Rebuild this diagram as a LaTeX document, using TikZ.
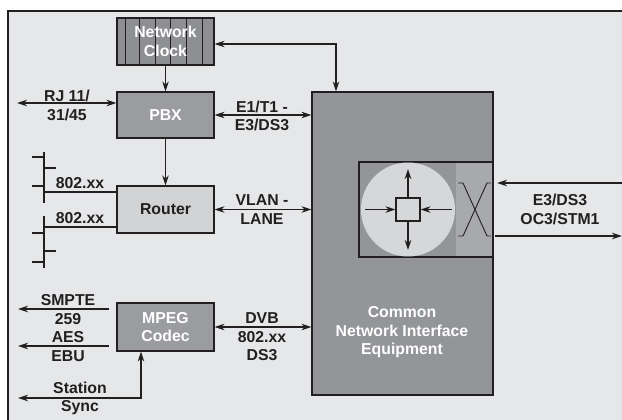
\documentclass[tikz,border=0pt]{standalone}
\usepackage{fontspec}
\setmainfont{Liberation Sans}
\usetikzlibrary{arrows.meta}
\definecolor{bggray}{HTML}{E6E7E8}
\definecolor{inkdark}{HTML}{231F20}
\definecolor{cnigray}{HTML}{939598}
\definecolor{boxgray}{HTML}{9B9C9F}
\definecolor{clockgray}{HTML}{8E8F92}
\definecolor{routergray}{HTML}{D1D3D4}
\definecolor{discgray}{HTML}{D6D7D9}
\definecolor{xgray}{HTML}{A7A9AC}
\begin{document}
\begin{tikzpicture}[x=1pt, y=-1pt, >={Stealth[length=10pt,width=6.5pt]}, line width=1.2pt, draw=inkdark,
    every node/.style={font=\fontsize{15.8}{18.5}\selectfont\bfseries, text=inkdark, align=center, inner sep=0pt},
    box/.style={draw=inkdark, minimum width=97pt, minimum height=47pt, text=white}]
        % Frame
        \useasboundingbox (0,0) rectangle (622,420);
        \fill[bggray] (8,11) rectangle (622,420);
        \draw[line width=1.5pt] (8,420) -- (8,11) -- (622,11);

        % Boxes
        \node[box, fill=clockgray, minimum height=47pt,
              path picture={\foreach \sx in {-40.5,-26.5,-10.5,4.5,20.5,36.5}{
                  \draw[line width=0.8pt, draw=inkdark] ([xshift=\sx pt]path picture bounding box.north)
                      -- ([xshift=\sx pt]path picture bounding box.south);}}]
              (clock) at (165.5,41.5) {Network\\Clock};
        \node[box, fill=boxgray, minimum height=46pt] (pbx) at (165.5,115) {PBX};
        \node[box, fill=routergray, text=inkdark] (router) at (165.5,209.5) {Router};
        \node[box, fill=boxgray, minimum height=48pt] (mpeg) at (165.5,327) {MPEG\\Codec};
        \node[box, fill=cnigray, minimum width=181pt, minimum height=303pt] (cnie) at (402.5,243.5) {};
        \node[text=white] (cnietext) at (402,332.5) {Common\\Network Interface\\Equipment};

        % Switch inside the interface box
        \fill[cnigray] (359,162) rectangle (493,257);
        \fill[xgray] (456,162) rectangle (493,257);
        \draw[line width=1.5pt] (359,162) rectangle (493,257);
        \fill[discgray] (408,209.5) circle (47);
        \node[draw=inkdark, fill=discgray, minimum width=24pt, minimum height=23pt] (core) at (408,209.5) {};
        \draw[->] (core.north) -- (408,169);
        \draw[->] (core.south) -- (408,250);
        \draw[<-] (core.west) -- (365,209.5);
        \draw[<-] (core.east) -- (452,209.5);
        \draw[line width=0.9pt] (458,183) -- (463,183) -- (487,236) -- (491,236);
        \draw[line width=0.9pt] (491,183) -- (487,183) -- (463,236) -- (458,236);

        % Connectors
        \draw[->] (clock.south) -- (pbx.north);
        \draw[->] (pbx.south) -- (router.north);
        \draw[<->] ([yshift=-2.5pt]clock.east) -| ([xshift=-66.5pt]cnie.north);
        \draw[<->] (pbx.east) -- (pbx.east -| cnie.west);
        \draw[<->] (router.east) -- (router.east -| cnie.west);
        \draw[<->] (mpeg.east) -- (mpeg.east -| cnie.west);

        \coordinate (rj) at (17,103);
        \draw[<->] (rj) -- (rj -| pbx.west);
        \coordinate (smpte) at (18,309);
        \draw[<-] (smpte) -- (109,309);
        \coordinate (aes) at (18,346);
        \draw[<-] (aes) -- (109,346);
        \coordinate (sync) at (18,398);
        \draw[<->] (sync) -| ([xshift=-24.5pt]mpeg.south);

        \coordinate (trunkin) at (622,183);
        \draw[->] (trunkin) -- (497,183);
        \coordinate (trunkout) at (622,236);
        \draw[<-] (trunkout) -- (495,236);

        % LAN buses
        \draw (44,152) -- (44,203);
        \draw (32,157) -- (44,157);
        \draw (44,168) -- (56,168);
        \draw (32,186) -- (44,186);
        \coordinate (busA) at (44,192);
        \draw (busA) -- (busA -| router.west);
        \draw (44,216) -- (44,268);
        \draw (32,233) -- (44,233);
        \draw (44,251) -- (56,251);
        \draw (32,262) -- (44,262);
        \coordinate (busB) at (44,227);
        \draw (busB) -- (busB -| router.west);

        % Labels
        \node (rjlabel) at (67,105.5) {RJ 11/\\31/45};
        \node (e1label) at (262,116) {E1/T1 -\\E3/DS3};
        \node (vlanlabel) at (262,209.5) {VLAN -\\LANE};
        \node (dvblabel) at (262,337) {DVB\\802.xx\\DS3};
        \node (lanA) at (80,183) {802.xx};
        \node (lanB) at (80,218) {802.xx};
        \node (smptelabel) at (68,328) {SMPTE\\259\\AES\\EBU};
        \node (synclabel) at (80,398.5) {Station\\Sync};
        \node (trunklabel) at (560,209.5) {E3/DS3\\OC3/STM1};
    \end{tikzpicture}
\end{document}
